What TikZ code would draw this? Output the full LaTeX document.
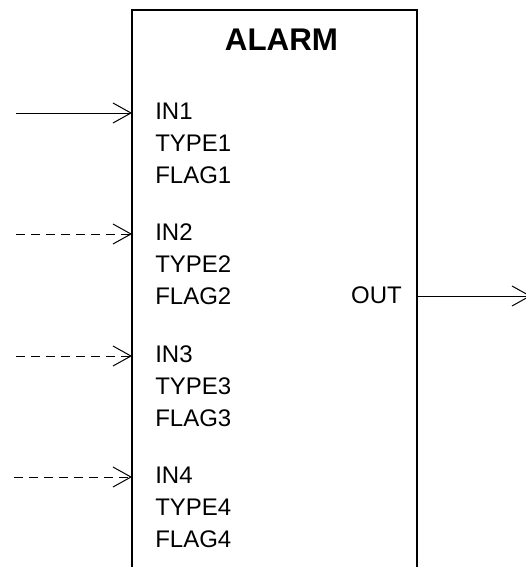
\documentclass[tikz,border=0pt]{standalone}
\usepackage{fontspec}
\setmainfont{Liberation Sans}
\usepackage{tikz}
\usetikzlibrary{arrows.meta,positioning}

\begin{document}
\begin{tikzpicture}[x=0.75pt,y=-0.75pt,>={Straight Barb[length=13.5pt,width=15pt]},
   every node/.style={font=\fontsize{18}{24}\selectfont},
   sigtext/.style={anchor=base west,inner sep=0pt},
   wire/.style={->,line width=0.75pt},
   optwire/.style={wire,dash pattern=on 6.75pt off 4.5pt}]
\useasboundingbox (0,0) rectangle (525,567);
% block outline, open at the bottom
\draw[line width=1.5pt] (132,590) coordinate (bl) -- (132,10) coordinate (tl)
   -- (417,10) coordinate (tr) -- (417,590) coordinate (br);
\node[font=\bfseries\fontsize{23.5}{28}\selectfont] (title) at (281.5,39.5) {ALARM};
% input groups
\foreach \i/\y in {1/119,2/240,3/362,4/483} {
  \node[sigtext] (in\i) at (155,\y) {IN\i};
  \node[sigtext] (type\i) at (155,\y+32) {TYPE\i};
  \node[sigtext] (flag\i) at (155,\y+64) {FLAG\i};
  \coordinate (pin\i) at (132,\y-6);
}
\coordinate (src1) at (16,113);
\coordinate (src2) at (16,234);
\coordinate (src3) at (16,356);
\coordinate (src4) at (14,477);
\draw[wire] (src1) -- (pin1);
\draw[optwire] (src2) -- (pin2);
\draw[optwire] (src3) -- (pin3);
\draw[optwire] (src4) -- (pin4);
% output
\node[sigtext,anchor=base east] (out) at (402,303) {OUT};
\coordinate (pout) at (417,296);
\coordinate (dst) at (531,296);
\draw[wire] (pout) -- (dst);
\end{tikzpicture}
\end{document}
